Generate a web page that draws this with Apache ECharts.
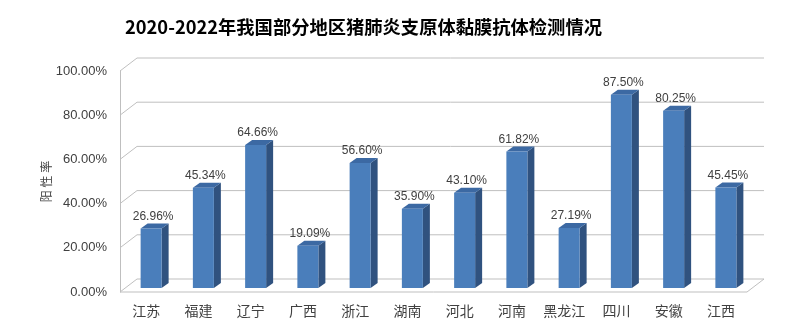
<!DOCTYPE html>
<html>
<head>
<meta charset="utf-8">
<script src="https://cdn.jsdelivr.net/npm/echarts@6/dist/echarts.min.js"></script>
<style>html,body{margin:0;padding:0;background:#fff}#c{width:800px;height:334px}</style>
</head>
<body>
<div id="c"></div>
<script>
var categories = ['江苏','福建','辽宁','广西','浙江','湖南','河北','河南','黑龙江','四川','安徽','江西'];
var values = [26.96, 45.34, 64.66, 19.09, 56.60, 35.90, 43.10, 61.82, 27.19, 87.50, 80.25, 45.45];
var yTicks = [0, 20, 40, 60, 80, 100];

var DX = 17, DY = 13;           // depth of the 3D box
var BOFF_X = 5, BOFF_Y = 4;      // bar placement inside depth
var BW = 21, BDX = 7, BDY = 5;   // bar width and bar depth

var chart = echarts.init(document.getElementById('c'));
chart.setOption({
  animation: false,
  title: {
    text: '2020-2022年我国部分地区猪肺炎支原体黏膜抗体检测情况',
    left: 125, top: 18, padding: 0,
    textStyle: {fontFamily: 'Noto Sans CJK SC', fontSize: 18.3, fontWeight: 'bold', color: '#000'}
  },
  grid: {left: 120, right: 53, top: 71, bottom: 42},
  xAxis: {
    type: 'category', data: categories,
    axisLine: {show: false}, axisTick: {show: false},
    axisLabel: {interval: 0, margin: 12, fontSize: 14, color: '#404040', fontFamily: 'Noto Sans CJK SC'}
  },
  yAxis: {
    type: 'value', min: 0, max: 100, interval: 20,
    name: '阳 性 率', nameLocation: 'middle', nameGap: 68, nameRotate: 90,
    nameMoveOverlap: false,
    nameTextStyle: {fontSize: 12, color: '#404040', fontFamily: 'Noto Sans CJK SC'},
    axisLine: {show: true, lineStyle: {color: '#bfbfbf'}},
    axisTick: {show: false},
    splitLine: {show: false},
    axisLabel: {margin: 13, fontSize: 13, color: '#404040', fontFamily: 'Liberation Sans',
      formatter: function (v) { return v.toFixed(2) + '%'; }}
  },
  series: [
    {
      type: 'custom', z: 1, silent: true,
      data: yTicks.map(function (t) { return [0, t]; }),
      encode: {x: 0, y: 1},
      renderItem: function (params, api) {
        var cs = params.coordSys;
        var x0 = cs.x, w = cs.width;
        var y = api.coord([0, api.value(1)])[1];
        var style = {stroke: '#bfbfbf', lineWidth: 1, fill: null};
        var children = [{
          type: 'polyline',
          shape: {points: [[x0, y], [x0 + DX, y - DY], [x0 + w + DX, y - DY]]},
          style: style
        }];
        if (api.value(1) === 0) {
          children.push({
            type: 'polyline',
            shape: {points: [[x0, y], [x0 + w, y], [x0 + w + DX, y - DY]]},
            style: style
          });
        }
        return {type: 'group', children: children};
      }
    },
    {
      type: 'custom', z: 3,
      data: values.map(function (v, i) { return [i, v]; }),
      encode: {x: 0, y: 1},
      renderItem: function (params, api) {
        var i = api.value(0), v = api.value(1);
        var top = api.coord([i, v]);
        var base = api.coord([i, 0]);
        var cx = top[0] + BOFF_X;
        var l = cx - BW / 2, r = cx + BW / 2;
        var t = top[1] - BOFF_Y, b = base[1] - BOFF_Y;
        return {
          type: 'group',
          children: [
            {type: 'polygon', shape: {points: [[r, t], [r + BDX, t - BDY], [r + BDX, b - BDY], [r, b]]},
              style: {fill: '#30527f'}},
            {type: 'polygon', shape: {points: [[l, t], [l + BDX, t - BDY], [r + BDX, t - BDY], [r, t]]},
              style: {fill: '#3c69a3'}},
            {type: 'rect', shape: {x: l, y: t, width: BW, height: b - t},
              style: {fill: '#4a7ebb'}},
            {type: 'text', x: cx + 2, y: t - BDY - 1,
              style: {text: v.toFixed(2) + '%', fill: '#404040', fontSize: 12,
                fontFamily: 'Liberation Sans', align: 'center', verticalAlign: 'bottom'}}
          ]
        };
      }
    }
  ]
});
</script>
</body>
</html>
